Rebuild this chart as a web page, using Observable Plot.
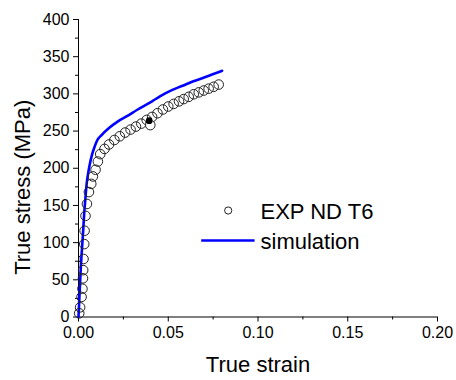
<!DOCTYPE html>
<html>
<head>
<meta charset="utf-8">
<script src="https://cdn.jsdelivr.net/npm/d3@7"></script>
<script src="https://cdn.jsdelivr.net/npm/@observablehq/plot@0.6"></script>
<style>
  html, body { margin: 0; padding: 0; background: white; }
</style>
</head>
<body>
<div id="chart"></div>
<script>
// Experimental data (EXP ND T6)
const expStrain = [0.0004, 0.0009, 0.0017, 0.0022, 0.0025, 0.0026, 0.0028, 0.0032, 0.0034, 0.0039, 0.0047, 0.0058, 0.0071, 0.0080, 0.0095, 0.0108, 0.0121,
  0.0145, 0.017, 0.020, 0.023, 0.026, 0.029, 0.032, 0.035, 0.038, 0.041, 0.044, 0.047, 0.050, 0.053, 0.056, 0.0586, 0.0614, 0.0642, 0.067, 0.0698, 0.0725, 0.0753, 0.0781];
const expStress = [5, 13, 27, 38, 52, 63, 78, 98, 116, 136, 152, 168, 179, 189, 198, 209, 219,
  226, 232, 238, 243, 248, 252, 256, 260, 265, 269, 274, 279, 283, 286.5, 290, 293, 296, 299.5, 302, 304.5, 307, 309.5, 312.5];
// outlier circle and small filled marker
const outStrain = [0.0400];
const outStress = [258];
const blackStrain = [0.0394];
const blackStress = [264];
// Simulation curve
const simStrain = [0, 0.0013, 0.0025, 0.0032, 0.0038, 0.0045, 0.0053, 0.0061, 0.0075, 0.009, 0.0103, 0.013, 0.017, 0.022, 0.027, 0.033, 0.041, 0.0456, 0.052, 0.058, 0.064, 0.070, 0.0744, 0.080];
const simStress = [0, 67, 112, 140, 158, 178, 192, 203, 218, 229, 237, 245, 254, 263, 270, 279, 290, 297, 305, 311, 317, 322, 326, 331];
// Ticks and labels
const xTicks = [0, 0.05, 0.10, 0.15, 0.20];
const xMinor = [0.025, 0.075, 0.125, 0.175];
const yTicks = [0, 50, 100, 150, 200, 250, 300, 350, 400];
const yMinor = [25, 75, 125, 175, 225, 275, 325, 375];
const xLabel = "True strain";
const yLabel = "True stress (MPa)";
const legendLabels = ["EXP ND T6", "simulation"];

const exp = expStrain.map((x, i) => ({x, y: expStress[i]}));
const out = outStrain.map((x, i) => ({x, y: outStress[i]}));
const blk = blackStrain.map((x, i) => ({x, y: blackStress[i]}));
const sim = simStrain.map((x, i) => ({x, y: simStress[i]}));

const hLine = { draw(context, size) { const r = Math.sqrt(size / Math.PI); context.moveTo(-r, 0); context.lineTo(r, 0); } };

const chart = Plot.plot({
  width: 456,
  height: 380,
  marginLeft: 78,
  marginRight: 19,
  marginTop: 19,
  marginBottom: 63.5,
  style: { fontFamily: "'Liberation Sans', Arial, sans-serif", fontSize: "16px", background: "white", color: "black", overflow: "visible" },
  x: { domain: [0, 0.2] },
  y: { domain: [0, 400] },
  marks: [
    Plot.axisX(xTicks, { tickSize: 5, tickPadding: 5, tickFormat: d3.format(".2f"), label: null, fontSize: 16 }),
    Plot.axisX(xMinor, { tickSize: 3, tickFormat: () => "", label: null }),
    Plot.axisY(yTicks, { tickSize: 5, tickPadding: 4, tickFormat: d3.format("d"), label: null, fontSize: 16 }),
    Plot.axisY(yMinor, { tickSize: 3, tickFormat: () => "", label: null }),
    Plot.ruleX([0], { stroke: "black", strokeWidth: 1 }),
    Plot.ruleY([0], { stroke: "black", strokeWidth: 1 }),
    Plot.line(sim, { x: "x", y: "y", stroke: "#0000ff", strokeWidth: 2.6, curve: "monotone-x" }),
    Plot.dot(exp, { x: "x", y: "y", r: 4.8, stroke: "#222", strokeWidth: 1, fill: "none" }),
    Plot.dot(out, { x: "x", y: "y", r: 4.8, stroke: "#222", strokeWidth: 1, fill: "white" }),
    Plot.dot(blk, { x: "x", y: "y", r: 2.6, fill: "black", stroke: "black" }),
    // axis titles
    Plot.text([xLabel], { text: d => d, frameAnchor: "bottom", lineAnchor: "middle", textAnchor: "middle", dy: 48, fontSize: 22 }),
    Plot.text([yLabel], { text: d => d, frameAnchor: "left", lineAnchor: "middle", textAnchor: "middle", rotate: -90, dx: -56, dy: 19, fontSize: 22 }),
    // legend
    Plot.dot([legendLabels[0]], { frameAnchor: "top-left", dx: 149.7, dy: 191, r: 3.6, stroke: "#222", strokeWidth: 1, fill: "none" }),
    Plot.text([legendLabels[0]], { text: d => d, frameAnchor: "top-left", lineAnchor: "middle", dx: 182, dy: 192, textAnchor: "start", fontSize: 22 }),
    Plot.dot([legendLabels[1]], { frameAnchor: "top-left", dx: 149.4, dy: 221, r: 26.7, symbol: hLine, stroke: "#0000ff", strokeWidth: 2.6, fill: "none" }),
    Plot.text([legendLabels[1]], { text: d => d, frameAnchor: "top-left", lineAnchor: "middle", dx: 182, dy: 222, textAnchor: "start", fontSize: 22 })
  ]
});
document.getElementById("chart").appendChild(chart);
</script>
</body>
</html>
